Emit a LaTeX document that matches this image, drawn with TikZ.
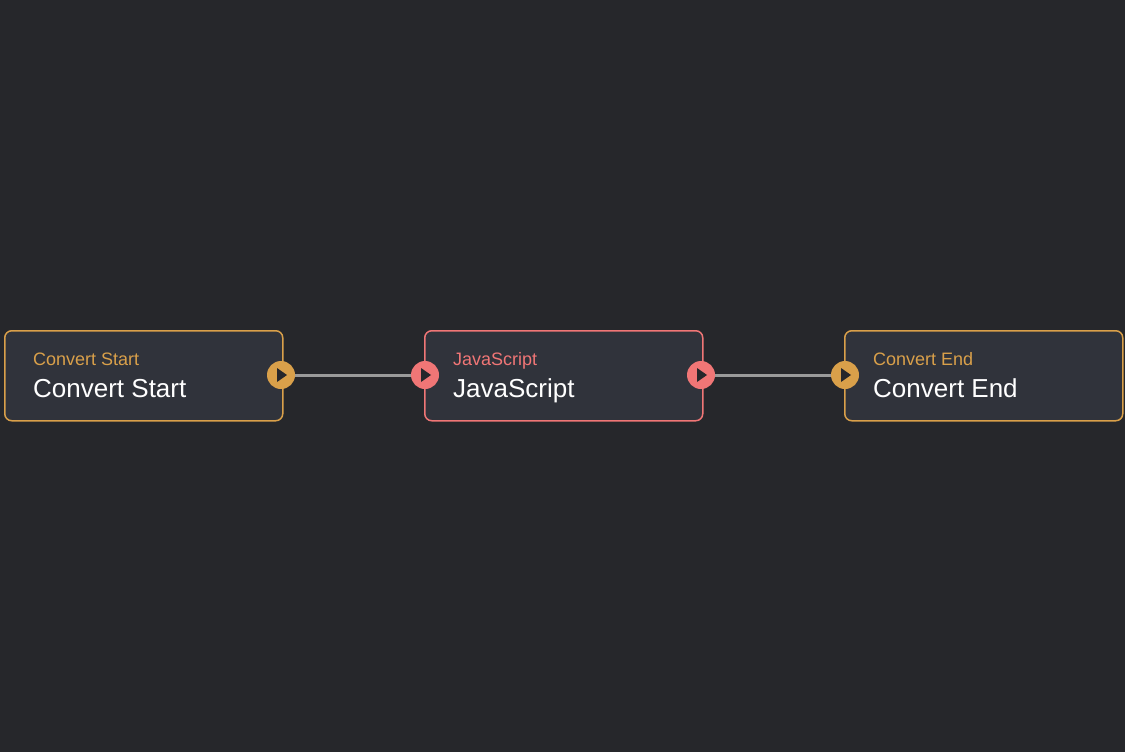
\documentclass[tikz,border=0pt]{standalone}
\usepackage{fontspec}
\setmainfont{Liberation Sans}
\begin{document}
\definecolor{bg}{HTML}{26272B}
\definecolor{boxf}{HTML}{30333B}
\definecolor{orng}{HTML}{D9A04A}
\definecolor{redc}{HTML}{F07676}
\definecolor{wire}{HTML}{9A9A9A}
\begin{tikzpicture}[x=1pt,y=-1pt,
 box/.style={draw=#1,line width=1.5pt,fill=boxf,rounded corners=7pt,minimum width=278pt,minimum height=90pt,anchor=north west,inner sep=0pt},
 sub/.style={anchor=base west,font=\fontsize{18}{18}\selectfont,text=#1,inner sep=0pt},
 main/.style={anchor=base west,font=\fontsize{26}{26}\selectfont,text=white,inner sep=0pt},
 port/.style={circle,fill=#1,minimum size=28pt,inner sep=0pt},
 wirest/.style={draw=wire,line width=3pt}]
\fill[bg] (0,0) rectangle (1125,752);
\useasboundingbox (0,0) rectangle (1125,752);
\node[box=orng] (a) at (4,330) {};
\node[box=redc] (b) at (424,330) {};
\node[box=orng] (c) at (844,330) {};
\node[sub=orng] (at) at (33,365) {Convert Start};
\node[main] (am) at (33,397) {Convert Start};
\node[sub=redc] (bt) at (453,365) {JavaScript};
\node[main] (bm) at (453,397) {JavaScript};
\node[sub=orng] (ct) at (873,365) {Convert End};
\node[main] (cm) at (873,397) {Convert End};
\node[port=orng] (p1) at (281,375) {};
\node[port=redc] (p2) at (425,375) {};
\node[port=redc] (p3) at (701,375) {};
\node[port=orng] (p4) at (845,375) {};
\draw[wirest] (p1.east) -- (p2.west);
\draw[wirest] (p3.east) -- (p4.west);
\foreach \p in {p1,p2,p3,p4}
  \fill[bg] ([xshift=-4pt,yshift=-7pt]\p.center) -- ([xshift=6pt]\p.center) -- ([xshift=-4pt,yshift=7pt]\p.center) -- cycle;
\end{tikzpicture}
\end{document}
